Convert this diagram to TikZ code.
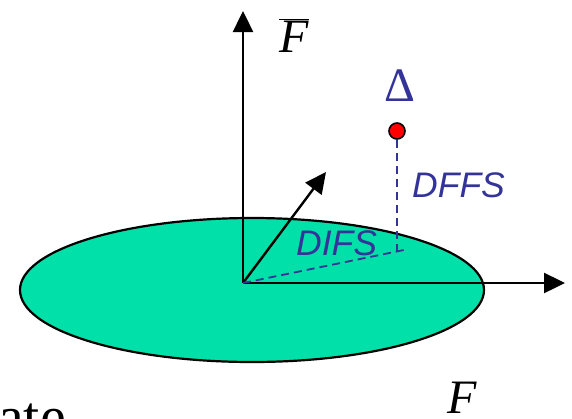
\documentclass[tikz,border=0pt]{standalone}
\usepackage{fontspec}
\setmainfont{Liberation Serif}
\newfontfamily\arialfont{Liberation Sans}
\usetikzlibrary{arrows.meta,shapes.geometric}
\definecolor{ellgreen}{RGB}{0,224,168}
\definecolor{labblue}{RGB}{51,51,153}
\begin{document}
\begin{tikzpicture}[x=1pt,y=-1pt,
  axis/.style={line width=2.4pt,-{Triangle[length=21pt,width=20pt]}},
  projline/.style={labblue,line width=1.8pt,dash pattern=on 8pt off 5pt},
  sanslab/.style={labblue,font=\arialfont\itshape\fontsize{35.5}{40}\selectfont,inner sep=0pt},
  seriflab/.style={font=\fontsize{48}{54}\selectfont,inner sep=0pt}]
\useasboundingbox (0,0) rectangle (572,418);
\clip (0,0) rectangle (572,418);
% plane
\node[ellipse,draw,line width=2.2pt,fill=ellgreen,minimum width=464pt,minimum height=144pt,inner sep=0pt] (plane) at (252,290) {};
\coordinate (O) at (243,283);
\coordinate (ytip) at (243,11);
\coordinate (xtip) at (565,283);
\coordinate (dtip) at (326,172);
\coordinate (proj) at (397,252);
\coordinate (projend) at (404,250);
\draw[axis] (O) -- (ytip);
\draw[axis] (O) -- (xtip);
\draw[axis] (O) -- (dtip);
% point
\node[circle,draw,line width=1.6pt,fill=red,minimum size=16pt,inner sep=0pt] (pt) at (397,131) {};
\draw[projline] (pt.south) -- (proj);
\draw[projline] (O) -- (projend);
% labels
\node[seriflab,anchor=base] (fbar) at (294,52) {$\overline{\hbox{\itshape F}}$};
\node[seriflab,labblue,anchor=base] (delta) at (400,101) {Δ};
\node[sanslab,anchor=base west] (dffs) at (412,197) {DFFS};
\node[sanslab,anchor=base west] (difs) at (296,255) {DIFS};
\node[seriflab,anchor=base] (fbot) at (462,413) {\itshape F};
\node[font=\fontsize{58}{64}\selectfont,inner sep=0pt,anchor=base west] (ate) at (-2,436) {ate};
\end{tikzpicture}
\end{document}
